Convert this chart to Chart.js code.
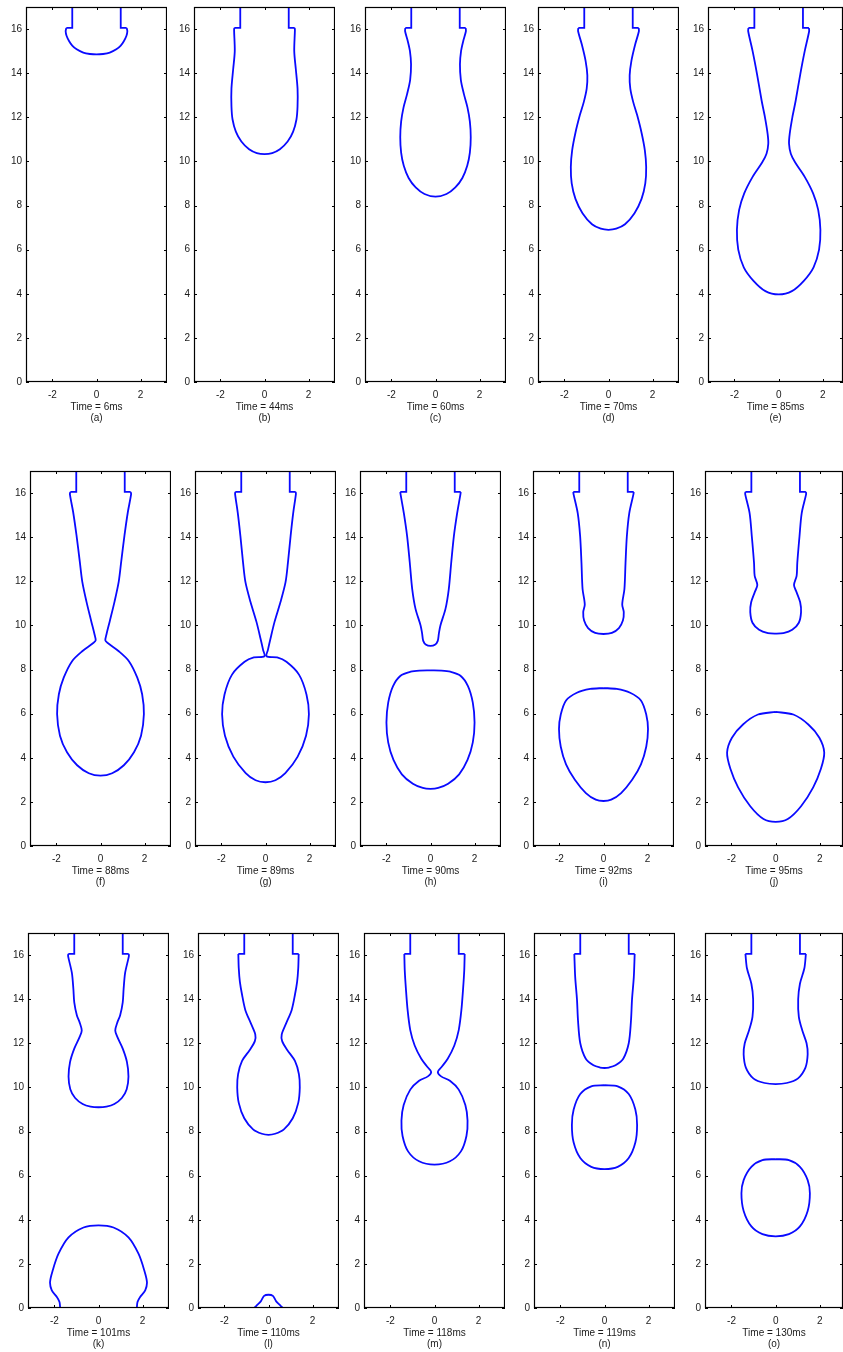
<!DOCTYPE html>
<html>
<head>
    <title>Drop formation sequence</title>
    <script src="https://cdn.jsdelivr.net/npm/chart.js"></script>
    <style>
        body { margin: 0; background: #fff; width: 843px; height: 1352px; overflow: hidden; position: relative; }
        canvas { position: absolute; }
    </style>
</head>
<body>
<script>
    // frame times and panel letters
    var times = [6, 44, 60, 70, 85, 88, 89, 90, 92, 95, 101, 110, 118, 119, 130];
    var letters = ['a', 'b', 'c', 'd', 'e', 'f', 'g', 'h', 'i', 'j', 'k', 'l', 'm', 'n', 'o'];
    var xTicks = [-2, 0, 2];
    var yTicks = [0, 2, 4, 6, 8, 10, 12, 14, 16];

    // nozzle wall, right side [x, y]
    var nozzle = [[1.1, 17], [1.1, 16.05], [1.37, 16.05]];

    // right half of each interface [x, y], from the nozzle lip down to the axis
    var jetA = [[1.37, 16.05], [1.4, 15.9], [1.36, 15.7], [1.24, 15.45], [1.1, 15.25], [0.9, 15.08], [0.6, 14.93], [0.3, 14.87], [0, 14.85]];
    var jetB = [[1.37, 16.05], [1.38, 15.95], [1.35, 15.0], [1.42, 14.2], [1.5, 13.3], [1.5, 12.5], [1.45, 11.9], [1.3, 11.35], [1.05, 10.9], [0.7, 10.55], [0.35, 10.38], [0, 10.33]];
    var jetC = [[1.37, 16.05], [1.38, 15.9], [1.26, 15.46], [1.16, 15.0], [1.11, 14.4], [1.15, 13.7], [1.29, 13.05], [1.45, 12.45], [1.56, 11.8], [1.6, 11.1], [1.56, 10.4], [1.44, 9.8], [1.22, 9.25], [0.9, 8.82], [0.5, 8.52], [0, 8.4]];
    var jetD = [[1.37, 16.05], [1.38, 15.9], [1.21, 15.3], [1.04, 14.56], [0.96, 13.9], [0.99, 13.3], [1.12, 12.7], [1.3, 12.1], [1.5, 11.3], [1.65, 10.5], [1.71, 9.75], [1.67, 9.0], [1.5, 8.3], [1.18, 7.65], [0.75, 7.15], [0.35, 6.95], [0, 6.9]];
    var jetE = [[1.37, 16.05], [1.38, 15.9], [1.18, 15.0], [0.98, 13.96], [0.77, 12.75], [0.62, 12.0], [0.5, 11.25], [0.47, 10.8], [0.55, 10.35], [0.75, 9.95], [1.18, 9.3], [1.56, 8.55], [1.79, 7.8], [1.89, 6.9], [1.83, 6.0], [1.58, 5.2], [1.15, 4.6], [0.6, 4.12], [0, 3.97]];
    var jetF = [[1.37, 16.05], [1.39, 15.95], [1.24, 15.13], [1.09, 14.09], [0.94, 12.89], [0.83, 12.0], [0.64, 11.09], [0.42, 10.19], [0.27, 9.59], [0.22, 9.32], [0.33, 9.2], [0.83, 8.83], [1.29, 8.38], [1.67, 7.63], [1.89, 6.88], [1.97, 5.98], [1.84, 5.0], [1.52, 4.25], [1.06, 3.66], [0.53, 3.3], [0, 3.19]];
    var jetG = [[1.37, 16.05], [1.38, 15.95], [1.26, 15.11], [1.14, 14.06], [1.02, 12.86], [0.91, 11.96], [0.68, 11.06], [0.41, 10.16], [0.23, 9.42], [0.11, 8.89], [0.05, 8.6], [0.53, 8.55], [0.95, 8.35], [1.52, 7.77], [1.86, 6.87], [1.97, 5.97], [1.84, 5.0], [1.46, 4.05], [0.9, 3.3], [0.45, 2.98], [0, 2.89]];
    var jetH = [[1.37, 16.05], [1.36, 15.95], [1.21, 15.09], [1.06, 14.04], [0.94, 12.84], [0.83, 11.65], [0.68, 10.75], [0.45, 10.0], [0.38, 9.63], [0.33, 9.3], [0.2, 9.12], [0, 9.07]];
    var jetI = [[1.37, 16.05], [1.36, 15.95], [1.17, 15.09], [1.06, 14.04], [1.0, 12.84], [0.95, 11.65], [0.85, 10.95], [0.92, 10.6], [0.88, 10.22], [0.7, 9.88], [0.38, 9.66], [0, 9.61]];
    var jetJ = [[1.37, 16.05], [1.38, 15.95], [1.18, 15.09], [1.08, 14.04], [0.98, 12.84], [0.95, 12.25], [0.83, 11.83], [0.95, 11.5], [1.11, 11.05], [1.15, 10.6], [1.05, 10.12], [0.75, 9.8], [0.35, 9.65], [0, 9.63]];
    var jetK = [[1.37, 16.05], [1.38, 15.95], [1.21, 15.2], [1.14, 14.46], [1.1, 13.86], [0.98, 13.26], [0.86, 12.96], [0.76, 12.58], [0.86, 12.28], [1.1, 11.76], [1.29, 11.16], [1.36, 10.5], [1.28, 9.92], [1.06, 9.52], [0.72, 9.25], [0.36, 9.13], [0, 9.1]];
    var jetL = [[1.37, 16.05], [1.35, 15.4], [1.3, 14.8], [1.2, 14.2], [1.05, 13.5], [0.8, 12.9], [0.6, 12.4], [0.62, 12.1], [0.85, 11.7], [1.2, 11.2], [1.38, 10.6], [1.42, 10.0], [1.35, 9.3], [1.1, 8.6], [0.7, 8.1], [0.3, 7.9], [0, 7.85]];
    var jetM = [[1.37, 16.05], [1.35, 15.3], [1.3, 14.5], [1.22, 13.5], [1.1, 12.6], [0.9, 11.9], [0.6, 11.3], [0.3, 10.9], [0.15, 10.7], [0.3, 10.5], [0.7, 10.3], [1.1, 9.9], [1.4, 9.2], [1.5, 8.5], [1.45, 7.8], [1.2, 7.1], [0.7, 6.65], [0, 6.5]];
    var jetN = [[1.37, 16.05], [1.33, 15.0], [1.25, 14.0], [1.2, 13.0], [1.1, 12.0], [0.85, 11.3], [0.5, 11.0], [0.2, 10.9], [0, 10.88]];
    var jetO = [[1.37, 16.05], [1.3, 15.4], [1.1, 14.7], [1.02, 14.0], [1.05, 13.2], [1.2, 12.6], [1.4, 12.0], [1.45, 11.5], [1.35, 10.9], [1.0, 10.4], [0.5, 10.2], [0, 10.15]];

    // detached drops, right half from top of drop to its bottom
    var dropH = [[0, 7.96], [0.5, 7.95], [0.9, 7.9], [1.36, 7.72], [1.7, 7.25], [1.92, 6.5], [2.0, 5.6], [1.92, 4.7], [1.68, 3.9], [1.3, 3.25], [0.8, 2.82], [0.35, 2.63], [0, 2.59]];
    var dropI = [[0, 7.16], [0.6, 7.12], [1.21, 6.95], [1.7, 6.6], [1.94, 5.96], [2.02, 5.3], [1.94, 4.5], [1.7, 3.7], [1.3, 3.0], [0.8, 2.4], [0.35, 2.1], [0, 2.04]];
    var dropJ = [[0, 6.08], [0.8, 5.96], [1.48, 5.51], [1.98, 4.91], [2.2, 4.24], [2.05, 3.5], [1.7, 2.66], [1.15, 1.8], [0.55, 1.22], [0, 1.09]];
    var dropN = [[0, 10.1], [0.6, 10.05], [1.1, 9.7], [1.4, 9.0], [1.48, 8.3], [1.4, 7.5], [1.1, 6.8], [0.6, 6.4], [0, 6.3]];
    var dropO = [[0, 6.75], [0.6, 6.7], [1.1, 6.4], [1.45, 5.8], [1.55, 5.2], [1.45, 4.4], [1.1, 3.7], [0.6, 3.35], [0, 3.25]];

    // drops sitting on the floor, right half from top down to y = 0
    var floorK = [[0, 3.75], [0.68, 3.65], [1.36, 3.2], [1.82, 2.45], [2.08, 1.7], [2.2, 1.17], [2.12, 0.8], [1.89, 0.5], [1.77, 0.27], [1.74, 0]];
    var floorL = [[0, 0.6], [0.2, 0.55], [0.35, 0.3], [0.55, 0.1], [0.65, 0]];

    var jets = [jetA, jetB, jetC, jetD, jetE, jetF, jetG, jetH, jetI, jetJ, jetK, jetL, jetM, jetN, jetO];
    var drops = [[], [], [], [], [], [], [], [dropH], [dropI], [dropJ], [], [], [], [dropN], [dropO]];
    var floors = [[], [], [], [], [], [], [], [], [], [], [floorK], [floorL], [], [], []];

    // layout of the 5 x 3 grid (pixel position of x = 0 in each panel, top of each row)
    var zeroX = [96.7, 264.3, 435, 608.3, 778.7,
                 100, 265, 430, 603.3, 775.7,
                 98.3, 268, 434, 604, 775];
    var rowTop = [5, 469, 931];
    var plotH = 377;
    var pxPerUnit = 22;
    var yAxisW = 30, xAxisH = 42, padTop = 8;
    var blue = '#0a0aff';
    var textColor = '#1a1a1a';
    var fontFamily = '"Liberation Sans", Arial, sans-serif';

    function pts(a) { return a.map(function(p) { return {x: p[0], y: p[1]}; }); }
    function mirror(a) { return a.map(function(p) { return {x: -p[0], y: p[1]}; }); }

    var frameTicks = {
        id: 'frameTicks',
        afterDraw: function(chart) {
            var ctx = chart.ctx, a = chart.chartArea;
            var xs = chart.scales.x, ys = chart.scales.y;
            ctx.save();
            ctx.strokeStyle = '#000';
            ctx.lineWidth = 1;
            ctx.beginPath();
            xTicks.forEach(function(v) {
                var px = Math.round(xs.getPixelForValue(v)) + 0.5;
                ctx.moveTo(px, a.bottom); ctx.lineTo(px, a.bottom - 3);
                ctx.moveTo(px, a.top); ctx.lineTo(px, a.top + 3);
            });
            yTicks.forEach(function(v) {
                var py = Math.round(ys.getPixelForValue(v)) + 0.5;
                ctx.moveTo(a.left, py); ctx.lineTo(a.left + 3, py);
                ctx.moveTo(a.right, py); ctx.lineTo(a.right - 3, py);
            });
            ctx.stroke();
            ctx.lineWidth = 1.2;
            ctx.strokeRect(a.left + 0.5, a.top + 0.5, a.right - a.left - 1, a.bottom - a.top - 1);
            ctx.restore();
        }
    };

    function lineSet(data, tension) {
        return {
            data: data, showLine: true, fill: false, tension: tension,
            borderColor: blue, borderWidth: 1.8, pointRadius: 0
        };
    }

    for (var i = 0; i < 15; i++) {
        var row = Math.floor(i / 5), col = i % 5;
        var xMin = -3.2;
        var xMax = 3.2;
        var plotLeft = Math.round(zeroX[i] + xMin * pxPerUnit);
        if (col === 4) xMax = (842.5 - plotLeft) / pxPerUnit + xMin;
        var plotW = (xMax - xMin) * pxPerUnit;

        var canvas = document.createElement('canvas');
        canvas.width = Math.round(yAxisW + plotW);
        canvas.height = padTop + plotH + xAxisH;
        canvas.style.left = (plotLeft - yAxisW) + 'px';
        canvas.style.top = (rowTop[row] - padTop) + 'px';
        document.body.appendChild(canvas);

        var datasets = [lineSet(mirror(nozzle), 0), lineSet(pts(nozzle), 0)];
        var jet = jets[i];
        datasets.push(lineSet(mirror(jet).concat(pts(jet.slice(0, -1).reverse())), 0.3));
        drops[i].forEach(function(d) {
            datasets.push(lineSet(pts(d).concat(mirror(d).reverse().slice(1)), 0.3));
        });
        floors[i].forEach(function(d) {
            datasets.push(lineSet(mirror(d).reverse().concat(pts(d.slice(1))), 0.3));
        });

        new Chart(canvas.getContext('2d'), {
            type: 'scatter',
            data: { datasets: datasets },
            options: {
                responsive: false,
                animation: false,
                events: [],
                layout: { padding: { top: padTop, right: 0, left: 0, bottom: 0 } },
                plugins: { legend: { display: false }, tooltip: { enabled: false } },
                scales: {
                    x: {
                        type: 'linear', min: xMin, max: xMax,
                        grid: { display: false, drawTicks: false },
                        border: { display: false },
                        afterBuildTicks: function(s) { s.ticks = xTicks.map(function(v) { return {value: v}; }); },
                        afterFit: function(s) { s.height = xAxisH; },
                        ticks: { padding: 7, color: textColor, font: { family: fontFamily, size: 10 }, maxRotation: 0 },
                        title: {
                            display: true,
                            text: ['Time = ' + times[i] + 'ms', '(' + letters[i] + ')'],
                            color: textColor,
                            font: { family: fontFamily, size: 10, lineHeight: 1.1 },
                            padding: { top: 0, bottom: 0 }
                        }
                    },
                    y: {
                        type: 'linear', min: 0, max: 17,
                        grid: { display: false, drawTicks: false },
                        border: { display: false },
                        afterBuildTicks: function(s) { s.ticks = yTicks.map(function(v) { return {value: v}; }); },
                        afterFit: function(s) { s.width = yAxisW; },
                        ticks: { padding: 4, color: textColor, font: { family: fontFamily, size: 10 } }
                    }
                }
            },
            plugins: [frameTicks]
        });
    }
</script>
</body>
</html>
